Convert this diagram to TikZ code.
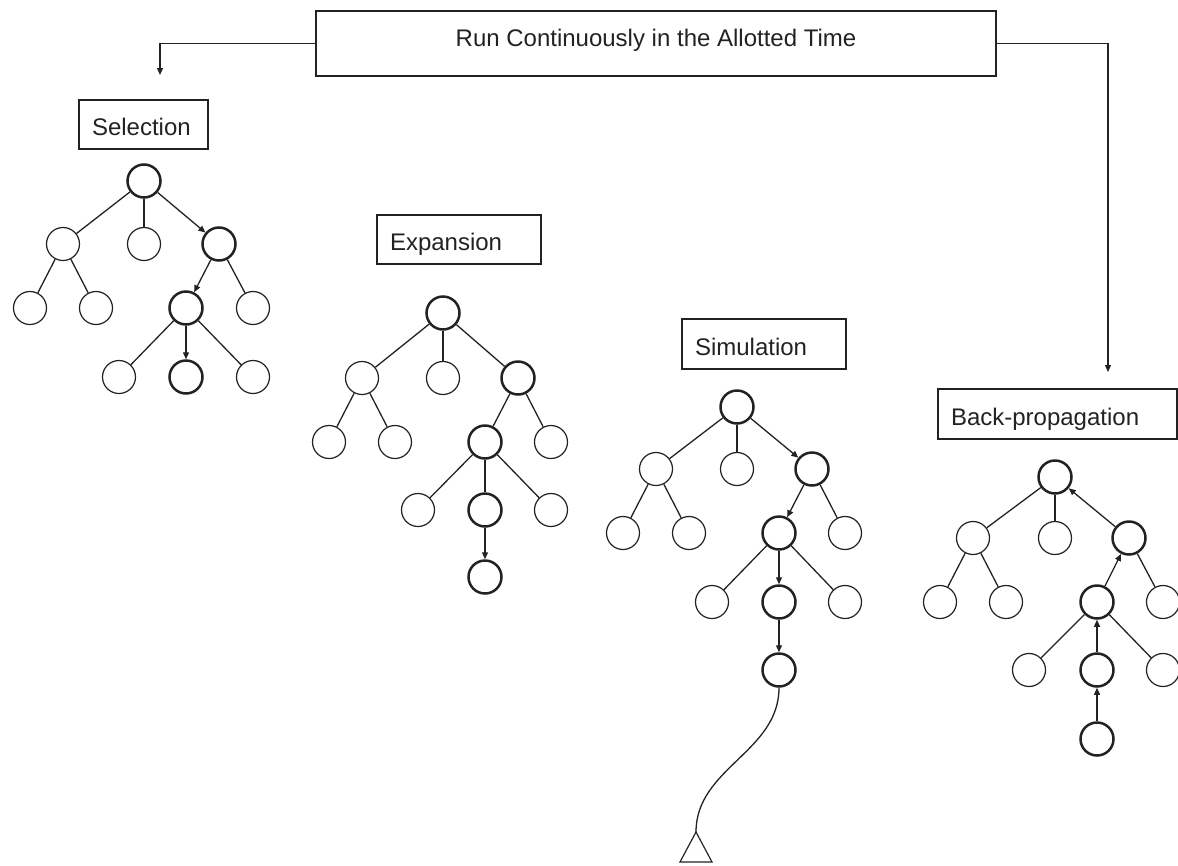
\documentclass[tikz,border=0pt]{standalone}
\usepackage{fontspec}
\setmainfont{Liberation Sans}
\usetikzlibrary{arrows.meta}
\definecolor{ink}{HTML}{222222}
\tikzset{
  every node/.style={font=\fontsize{24}{28}\selectfont, text=ink},
  nd/.style={circle, draw=ink, line width=1.2pt, minimum size=33pt, inner sep=0pt},
  hot/.style={nd, line width=2.5pt},
  edge/.style={draw=ink, line width=1.3pt},
  arr/.style={edge, -{Triangle[length=7pt,width=6pt]}},
  lbl/.style={draw=ink, line width=1.2pt, inner xsep=13pt, inner ysep=0pt, align=left, text height=22.5pt, text depth=0pt}
}
\begin{document}
\begin{tikzpicture}[x=1pt,y=-1pt]
\useasboundingbox (0,0) rectangle (1178,865);
% title
\node[draw=ink, line width=1.2pt, minimum width=680pt, minimum height=65pt, inner sep=0pt, text height=22.8pt, text depth=17.2pt] (title) at (656,43.5) {Run Continuously in the Allotted Time};
\coordinate (arrL) at (160,75);
\coordinate (arrR) at (1108,372);
\draw[arr] (title.west) -| (arrL);
\draw[arr] (title.east) -| (arrR);

% labels
\node[lbl, text width=103pt, minimum height=49pt] (lsel) at (143.5,124.5) {Selection};
\node[lbl, text width=138pt, minimum height=49pt] (lexp) at (459,239.5) {Expansion};
\node[lbl, text width=138pt, minimum height=50pt] (lsim) at (764,344) {Simulation};
\node[lbl, text width=213pt, minimum height=50pt] (lback) at (1057.5,414) {Back-propagation};

% Selection tree
\node[hot] (S0) at (144,181) {};
\node[nd] (S1a) at (63,244) {};
\node[nd] (S1b) at (144,244) {};
\node[hot] (S1c) at (219,244) {};
\node[nd] (S2a) at (30,308) {};
\node[nd] (S2b) at (96,308) {};
\node[hot] (S2c) at (186,308) {};
\node[nd] (S2d) at (253,308) {};
\node[nd] (S3a) at (119,377) {};
\node[hot] (S3b) at (186,377) {};
\node[nd] (S3c) at (253,377) {};
\draw[edge] (S0) -- (S1a);
\draw[edge] (S0) -- (S1b);
\draw[arr] (S0) -- (S1c);
\draw[edge] (S1a) -- (S2a);
\draw[edge] (S1a) -- (S2b);
\draw[arr] (S1c) -- (S2c);
\draw[edge] (S1c) -- (S2d);
\draw[edge] (S2c) -- (S3a);
\draw[arr] (S2c) -- (S3b);
\draw[edge] (S2c) -- (S3c);

% Expansion tree
\node[hot] (E0) at (443,313) {};
\node[nd] (E1a) at (362,378) {};
\node[nd] (E1b) at (443,378) {};
\node[hot] (E1c) at (518,378) {};
\node[nd] (E2a) at (329,442) {};
\node[nd] (E2b) at (395,442) {};
\node[hot] (E2c) at (485,442) {};
\node[nd] (E2d) at (551,442) {};
\node[nd] (E3a) at (418,510) {};
\node[hot] (E3b) at (485,510) {};
\node[nd] (E3c) at (551,510) {};
\node[hot] (E4) at (485,577) {};
\draw[edge] (E0) -- (E1a);
\draw[edge] (E0) -- (E1b);
\draw[edge] (E0) -- (E1c);
\draw[edge] (E1a) -- (E2a);
\draw[edge] (E1a) -- (E2b);
\draw[edge] (E1c) -- (E2c);
\draw[edge] (E1c) -- (E2d);
\draw[edge] (E2c) -- (E3a);
\draw[edge] (E2c) -- (E3b);
\draw[edge] (E2c) -- (E3c);
\draw[arr] (E3b) -- (E4);

% Simulation tree
\node[hot] (M0) at (737,407) {};
\node[nd] (M1a) at (656,469) {};
\node[nd] (M1b) at (737,469) {};
\node[hot] (M1c) at (812,469) {};
\node[nd] (M2a) at (623,533) {};
\node[nd] (M2b) at (689,533) {};
\node[hot] (M2c) at (779,533) {};
\node[nd] (M2d) at (845,533) {};
\node[nd] (M3a) at (712,602) {};
\node[hot] (M3b) at (779,602) {};
\node[nd] (M3c) at (845,602) {};
\node[hot] (M4) at (779,670) {};
\draw[edge] (M0) -- (M1a);
\draw[edge] (M0) -- (M1b);
\draw[arr] (M0) -- (M1c);
\draw[edge] (M1a) -- (M2a);
\draw[edge] (M1a) -- (M2b);
\draw[arr] (M1c) -- (M2c);
\draw[edge] (M1c) -- (M2d);
\draw[edge] (M2c) -- (M3a);
\draw[arr] (M2c) -- (M3b);
\draw[edge] (M2c) -- (M3c);
\draw[arr] (M3b) -- (M4);
\coordinate (tri) at (696,832);
\draw[edge] (M4.south) .. controls (779,752) and (696,768) .. (tri);
\draw[draw=ink, line width=1.2pt] (tri) -- (680,862) -- (712,862) -- cycle;

% Back-propagation tree
\node[hot] (B0) at (1055,477) {};
\node[nd] (B1a) at (973,538) {};
\node[nd] (B1b) at (1055,538) {};
\node[hot] (B1c) at (1129,538) {};
\node[nd] (B2a) at (940,602) {};
\node[nd] (B2b) at (1006,602) {};
\node[hot] (B2c) at (1097,602) {};
\node[nd] (B2d) at (1163,602) {};
\node[nd] (B3a) at (1029,670) {};
\node[hot] (B3b) at (1097,670) {};
\node[nd] (B3c) at (1163,670) {};
\node[hot] (B4) at (1097,739) {};
\draw[edge] (B0) -- (B1a);
\draw[edge] (B0) -- (B1b);
\draw[arr] (B1c) -- (B0);
\draw[edge] (B1a) -- (B2a);
\draw[edge] (B1a) -- (B2b);
\draw[arr] (B2c) -- (B1c);
\draw[edge] (B1c) -- (B2d);
\draw[edge] (B2c) -- (B3a);
\draw[arr] (B3b) -- (B2c);
\draw[edge] (B2c) -- (B3c);
\draw[arr] (B4) -- (B3b);
\end{tikzpicture}
\end{document}
